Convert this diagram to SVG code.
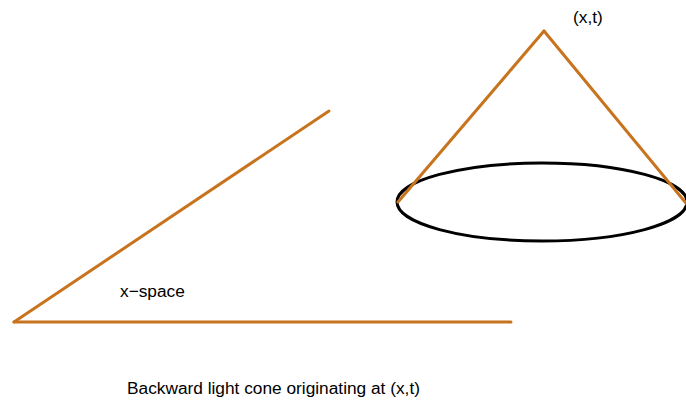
<svg xmlns="http://www.w3.org/2000/svg" width="686" height="401" viewBox="0 0 686 401">
<style>
.o{stroke:#c8731e;stroke-width:3;fill:none;stroke-linecap:round}
.k{stroke:#000;stroke-width:3;fill:none}
text{font-family:"Liberation Sans",Arial,sans-serif;font-size:17.3px;fill:#000}
</style>
<rect width="686" height="401" fill="#fff"/>
<g id="xspace">
<line class="o" x1="14" y1="322" x2="329" y2="111"/>
<line class="o" x1="14" y1="322" x2="511" y2="322"/>
<text x="120" y="297">x−space</text>
</g>
<g id="cone">
<ellipse class="k" cx="542" cy="202" rx="145" ry="39"/>
<line class="o" x1="544" y1="31" x2="398" y2="202"/>
<line class="o" x1="544" y1="31" x2="690" y2="208"/>
<text x="573" y="23">(x,t)</text>
</g>
<text x="127" y="394">Backward light cone originating at (x,t)</text>
</svg>
